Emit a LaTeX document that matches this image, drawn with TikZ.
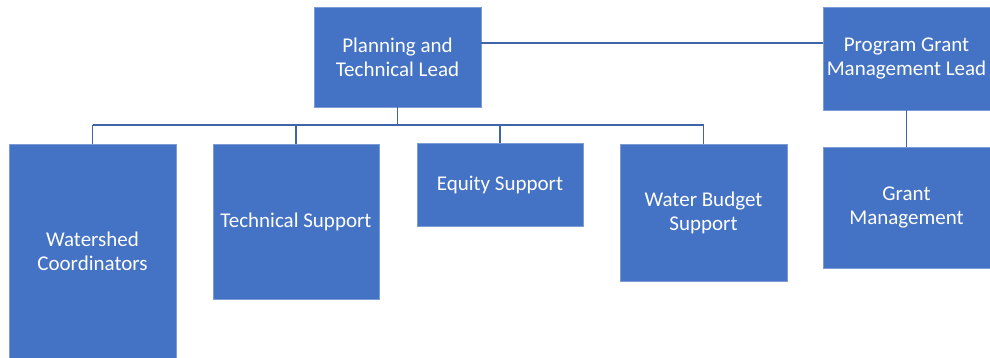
\documentclass[tikz,border=0pt]{standalone}
\usepackage{fontspec}
\setmainfont{Carlito}
\usetikzlibrary{positioning}
\definecolor{officeblue}{RGB}{68, 114, 196}
\definecolor{linkblue}{RGB}{64, 100, 170}

\begin{document}
\begin{tikzpicture}[x=1pt, y=1pt,
    box/.style={rectangle, fill=officeblue, draw=officeblue!70!white, line width=0.6pt,
                inner sep=0pt, align=center, text=white,
                font=\fontsize{21}{24}\selectfont},
    link/.style={draw=linkblue, line width=1.4pt}]
    \useasboundingbox (0,0) rectangle (990,358);

    % Leads
    \node[box, minimum width=167, minimum height=100] (plan) at (397.5, 301) {Planning and\\Technical Lead};
    \node[box, minimum width=167, minimum height=103] (prog) at (906.5, 299.5) {Program Grant\\Management Lead};

    % Support teams
    \node[box, minimum width=167, minimum height=214] (shed) at (92.5, 107) {Watershed\\Coordinators};
    \node[box, minimum width=166, minimum height=155] (tech) at (296, 136.5) {Technical Support};
    \node[box, minimum width=166, minimum height=83] (equity) at (500, 173.5) {Equity Support};
    \node[box, minimum width=167, minimum height=137] (water) at (703.5, 145.5) {Water Budget\\Support};
    \node[box, minimum width=167, minimum height=121] (grant) at (906.5, 150.5) {Grant\\Management};

    % Bus
    \coordinate (bus) at (0, 233);
    \draw[link] (plan.south) -- (plan.south |- bus);
    \draw[link] (shed.north |- bus) -- (water.north |- bus);
    \foreach \n in {shed, tech, equity, water}
        \draw[link] (\n.north) -- (\n.north |- bus);

    % Lead to lead
    \draw[link] (plan.east |- 0,315) -- (prog.west |- 0,315);
    \draw[link] (prog.south) -- (grant.north);
\end{tikzpicture}
\end{document}
